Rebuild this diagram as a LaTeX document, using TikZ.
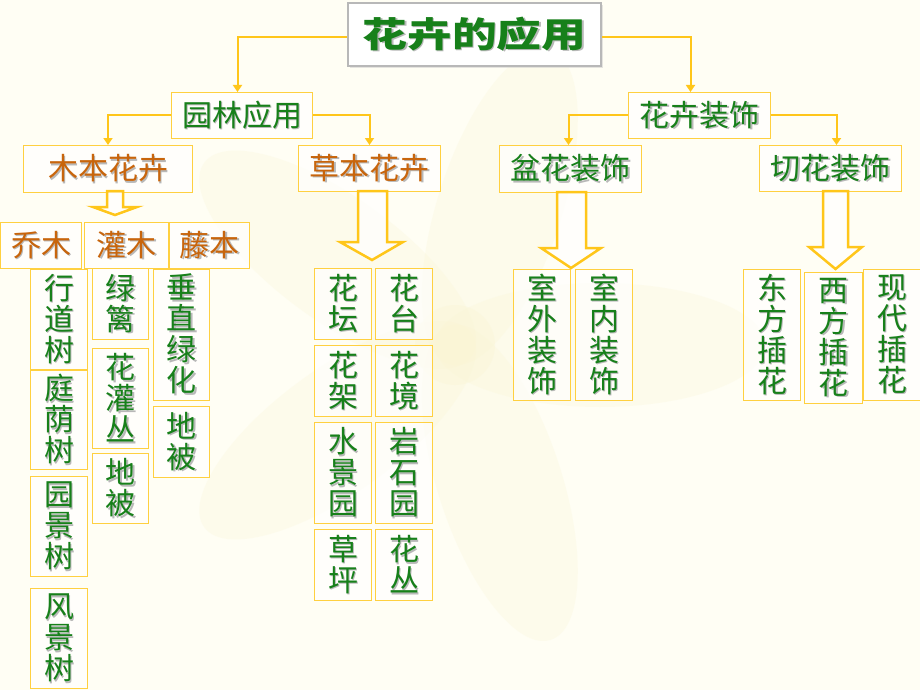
\documentclass[tikz,border=0pt]{standalone}
\usepackage{fontspec}
\usepackage{graphicx}
\newfontfamily\cjk{Noto Sans CJK SC}
\usetikzlibrary{arrows.meta,shadows}
\definecolor{gold}{HTML}{FFC61A}
\definecolor{boxline}{HTML}{FFD040}
\definecolor{tgreen}{HTML}{17801A}
\definecolor{torange}{HTML}{C8650C}
\definecolor{bgc}{HTML}{FFFEF4}
\definecolor{petal}{HTML}{FAF5D2}
\newcommand\sh[1]{\leavevmode\rlap{\kern1.6pt\raisebox{-1.6pt}{\color{black!28}#1}}#1}
\newcommand\vt[1]{\vbox{\hsize=32pt\parindent=0pt\baselineskip=31pt\lineskiplimit=-30pt\centering #1\par}}
\tikzset{
  box/.style={draw=boxline, line width=1pt, fill=white, fill opacity=0.65, text opacity=1,
    inner sep=0pt, anchor=north west, font=\cjk\fontsize{30}{31}\selectfont},
  gbox/.style={box, text=tgreen},
  obox/.style={box, text=torange},
  titlebox/.style={draw=black!28, line width=2pt, fill=white, inner sep=0pt, anchor=north west,
    text=tgreen, font=\cjk\bfseries\fontsize{35}{38}\selectfont,
    drop shadow={shadow xshift=2pt, shadow yshift=-2pt, fill=black!20}},
  link/.style={draw=gold, line width=2pt, -{Triangle[width=9pt,length=7pt]}},
  harrow/.style={draw=gold, line width=2.5pt, fill=white, fill opacity=0.7, line join=miter}
}
\begin{document}
\begin{tikzpicture}[x=1pt,y=-1pt]
\fill[bgc] (0,0) rectangle (920,690);
\useasboundingbox (0,0) rectangle (920,690);
% faint background flower
\foreach \a in {0,72,144,216,288}{
  \fill[petal, opacity=0.25, rotate around={\a:(455,345)}] (600,345) ellipse [x radius=165pt, y radius=62pt];
}
\fill[petal, opacity=0.3] (455,345) circle [radius=40pt];

% title
\node[titlebox, minimum width=253pt, minimum height=63pt] (top) at (347,2) {\sh{\scalebox{1.28}[1]{花卉的应用}}};

% level 2
\node[gbox, minimum width=141pt, minimum height=46pt] (yl) at (171,92) {\sh{园林应用}};
\node[gbox, minimum width=142pt, minimum height=46pt] (hz) at (628,92) {\sh{花卉装饰}};

% level 3
\node[obox, minimum width=169pt, minimum height=47pt] (mb) at (23,145) {\sh{木本花卉}};
\node[obox, minimum width=142pt, minimum height=46pt] (cb) at (298,145) {\sh{草本花卉}};
\node[gbox, minimum width=142pt, minimum height=47pt] (pz) at (499,145) {\sh{盆花装饰}};
\node[gbox, minimum width=142pt, minimum height=46pt] (qz) at (759,145) {\sh{切花装饰}};

% connectors
\draw[link] ([yshift=-3pt]top.west) -| ([xshift=-4.5pt]yl.north);
\draw[link] ([yshift=-3pt]top.east) -| ([xshift=-9pt]hz.north);
\draw[link] (yl.west) -| (mb.north);
\draw[link] (yl.east) -| (cb.north);
\draw[link] (hz.west) -| ([xshift=-2pt]pz.north);
\draw[link] (hz.east) -| ([xshift=6pt]qz.north);

% hollow arrows
\draw[harrow] (107,191) -- (123,191) -- (123,207) -- (137,207) -- (115,215) -- (93,207) -- (107,207) -- cycle;
\draw[harrow] (358,191) -- (387,191) -- (387,242) -- (403,242) -- (372,260) -- (340,242) -- (358,242) -- cycle;
\draw[harrow] (557,192) -- (586,192) -- (586,248) -- (601,248) -- (571,268) -- (541,248) -- (557,248) -- cycle;
\draw[harrow] (823,191) -- (848,191) -- (848,247) -- (862,247) -- (835.5,269) -- (809,247) -- (823,247) -- cycle;

% woody row
\node[obox, minimum width=81pt, minimum height=46pt] (qm) at (0,222) {\sh{乔木}};
\node[obox, minimum width=84pt, minimum height=46pt] (gm) at (84,222) {\sh{灌木}};
\node[obox, minimum width=80pt, minimum height=46pt] (tb) at (169,222) {\sh{藤本}};

% woody leaves
\node[gbox, minimum width=57pt, minimum height=100pt] (xds) at (30,269) {\sh{\vt{行\\道\\树}}};
\node[gbox, minimum width=57pt, minimum height=99pt] (tys) at (30,370) {\sh{\vt{庭\\荫\\树}}};
\node[gbox, minimum width=57pt, minimum height=100pt] (yjs) at (30,476) {\sh{\vt{园\\景\\树}}};
\node[gbox, minimum width=57pt, minimum height=100pt] (fjs) at (30,588) {\sh{\vt{风\\景\\树}}};
\node[gbox, minimum width=56pt, minimum height=71pt] (lv) at (92,268) {\sh{\vt{绿\\篱}}};
\node[gbox, minimum width=56pt, minimum height=100pt] (hgc) at (92,348) {\sh{\vt{花\\灌\\丛}}};
\node[gbox, minimum width=56pt, minimum height=70pt] (dba) at (92,453) {\sh{\vt{地\\被}}};
\node[gbox, minimum width=56pt, minimum height=131pt] (czlh) at (153,269) {\sh{\vt{垂\\直\\绿\\化}}};
\node[gbox, minimum width=56pt, minimum height=71pt] (dbb) at (153,406) {\sh{\vt{地\\被}}};

% herbaceous leaves
\node[gbox, minimum width=57pt, minimum height=71pt] (htan) at (314,268) {\sh{\vt{花\\坛}}};
\node[gbox, minimum width=57pt, minimum height=71pt] (htai) at (375,268) {\sh{\vt{花\\台}}};
\node[gbox, minimum width=57pt, minimum height=71pt] (hjia) at (314,345) {\sh{\vt{花\\架}}};
\node[gbox, minimum width=57pt, minimum height=71pt] (hjing) at (375,345) {\sh{\vt{花\\境}}};
\node[gbox, minimum width=57pt, minimum height=101pt] (sjy) at (314,422) {\sh{\vt{水\\景\\园}}};
\node[gbox, minimum width=57pt, minimum height=101pt] (ysy) at (375,422) {\sh{\vt{岩\\石\\园}}};
\node[gbox, minimum width=57pt, minimum height=71pt] (cp) at (314,529) {\sh{\vt{草\\坪}}};
\node[gbox, minimum width=57pt, minimum height=71pt] (hc) at (375,529) {\sh{\vt{花\\丛}}};

% potted
\node[gbox, minimum width=57pt, minimum height=131pt] (swzs) at (513,269) {\sh{\vt{室\\外\\装\\饰}}};
\node[gbox, minimum width=57pt, minimum height=131pt] (snzs) at (575,269) {\sh{\vt{室\\内\\装\\饰}}};

% cut flowers
\node[gbox, minimum width=57pt, minimum height=131pt] (dfch) at (743,269) {\sh{\vt{东\\方\\插\\花}}};
\node[gbox, minimum width=58pt, minimum height=131pt] (xfch) at (804,272) {\sh{\vt{西\\方\\插\\花}}};
\node[gbox, minimum width=57pt, minimum height=131pt] (xdch) at (863,269) {\sh{\vt{现\\代\\插\\花}}};
\end{tikzpicture}
\end{document}
